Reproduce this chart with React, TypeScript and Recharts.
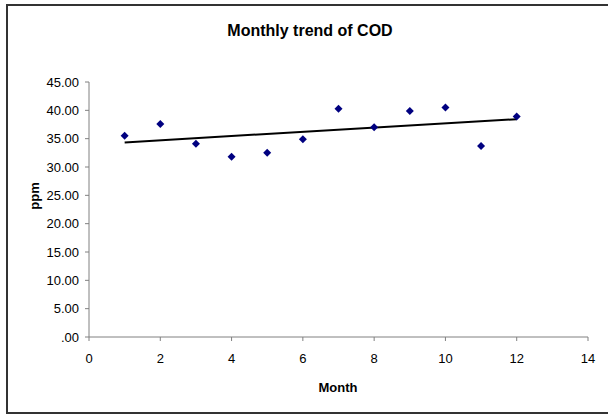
import React from "react";
import { ScatterChart, Scatter, XAxis, YAxis } from "recharts";

const MONTHS = [1, 2, 3, 4, 5, 6, 7, 8, 9, 10, 11, 12];
const COD = [35.5, 37.6, 34.1, 31.8, 32.5, 34.9, 40.3, 37.0, 39.9, 40.5, 33.7, 38.9];
const X_TICKS = [0, 2, 4, 6, 8, 10, 12, 14];
const Y_TICKS = [0, 5, 10, 15, 20, 25, 30, 35, 40, 45];

const FONT = "'Liberation Sans', Arial, sans-serif";

const points = MONTHS.map((m, i) => ({ x: m, y: COD[i] }));

// linear trendline (least squares), like Excel's
function trend() {
  const n = MONTHS.length;
  const mx = MONTHS.reduce((a, b) => a + b, 0) / n;
  const my = COD.reduce((a, b) => a + b, 0) / n;
  let num = 0;
  let den = 0;
  MONTHS.forEach((m, i) => {
    num += (m - mx) * (COD[i] - my);
    den += (m - mx) * (m - mx);
  });
  const slope = num / den;
  const icpt = my - slope * mx;
  const first = MONTHS[0];
  const last = MONTHS[n - 1];
  return [
    { x: first, y: icpt + slope * first },
    { x: last, y: icpt + slope * last },
  ];
}

const Diamond = (props: any) => {
  const { cx, cy } = props;
  const r = 4;
  return (
    <polygon
      points={`${cx},${cy - r} ${cx + r},${cy} ${cx},${cy + r} ${cx - r},${cy}`}
      fill="#000080"
    />
  );
};

const NoDot = () => <g />;

export default function App() {
  return (
    <div
      style={{
        position: "absolute",
        left: 0,
        top: 0,
        width: 608,
        height: 416,
        overflow: "hidden",
        background: "#fff",
        fontFamily: FONT,
      }}
    >
      {/* frame: left, top and bottom edges only (right edge is off the picture) */}
      <div
        style={{
          position: "absolute",
          left: 6,
          top: 4,
          width: 602,
          height: 410,
          borderLeft: "2px solid #333",
          borderTop: "2px solid #333",
          borderBottom: "2px solid #333",
          boxSizing: "border-box",
        }}
      />
      <div
        style={{
          position: "absolute",
          left: 0,
          top: 22,
          width: 620,
          textAlign: "center",
          fontSize: 16,
          fontWeight: "bold",
          color: "#000",
        }}
      >
        Monthly trend of COD
      </div>
      <div
        style={{
          position: "absolute",
          left: 34,
          top: 196,
          transform: "translate(-50%, -50%) rotate(-90deg)",
          fontSize: 13,
          fontWeight: "bold",
          color: "#000",
        }}
      >
        ppm
      </div>
      <div
        style={{
          position: "absolute",
          left: 338,
          top: 387,
          transform: "translate(-50%, -50%)",
          fontSize: 13,
          fontWeight: "bold",
          color: "#000",
        }}
      >
        Month
      </div>
      <div style={{ position: "absolute", left: 0, top: 0 }}>
        <ScatterChart
          width={608}
          height={416}
          margin={{ top: 82, right: 20, bottom: 49, left: 49 }}
        >
          <XAxis
            type="number"
            dataKey="x"
            domain={[0, 14]}
            ticks={X_TICKS}
            interval={0}
            height={30}
            stroke="#808080"
            tickSize={4}
            tickMargin={13}
            tick={{ fontSize: 13, fill: "#000", fontFamily: FONT }}
          />
          <YAxis
            type="number"
            dataKey="y"
            domain={[0, 45]}
            ticks={Y_TICKS}
            interval={0}
            width={40}
            stroke="#808080"
            tickSize={4}
            tickMargin={6}
            tickFormatter={(v: number) => (v === 0 ? ".00" : v.toFixed(2))}
            tick={{ fontSize: 13, fill: "#000", fontFamily: FONT }}
          />
          <Scatter
            data={trend()}
            line={{ stroke: "#000", strokeWidth: 2 }}
            shape={NoDot}
            isAnimationActive={false}
          />
          <Scatter data={points} shape={Diamond} isAnimationActive={false} />
        </ScatterChart>
      </div>
    </div>
  );
}
